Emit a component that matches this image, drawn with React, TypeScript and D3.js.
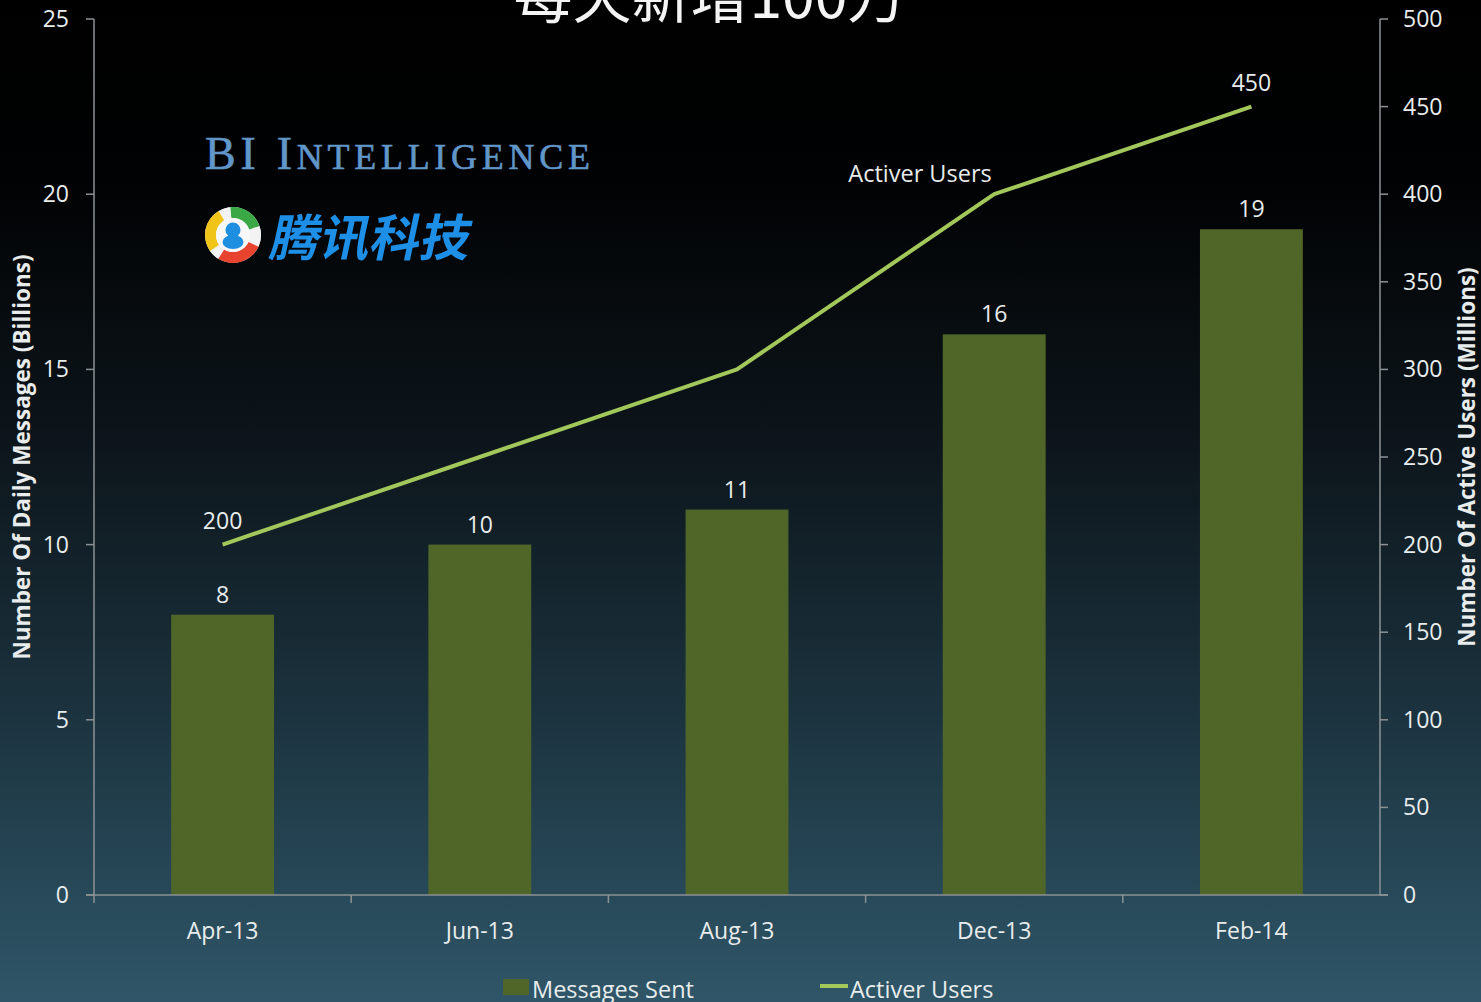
import React from "react";
import * as d3 from "d3";

const categories = ["Apr-13", "Jun-13", "Aug-13", "Dec-13", "Feb-14"];
const messagesSent = [8, 10, 11, 16, 19];
const activeUsers = [200, 250, 300, 400, 450];
const userLabels = [
  { index: 0, text: "200" },
  { index: 4, text: "450" },
];
const leftTicks = [0, 5, 10, 15, 20, 25];
const rightTicks = [0, 50, 100, 150, 200, 250, 300, 350, 400, 450, 500];
const title = "每天新增100万";
const leftTitle = "Number Of Daily Messages (Billions)";
const rightTitle = "Number Of Active Users (Millions)";
const seriesNames = ["Messages Sent", "Activer Users"];

const W = 1481;
const H = 1002;
const FONT = "'Open Sans', 'DejaVu Sans', sans-serif";
const AXIS = "#8c9294";
const BAR = "#506629";
const LINE = "#a2c75a";
const TXT = "#e8ecec";
const FS = 23;

export default function App() {
  const x0 = 94, x1 = 1380, yTop = 19, yBot = 895;
  const x = d3.scaleBand().domain(categories).range([x0, x1]).paddingInner(0.6).paddingOuter(0.3);
  const band = d3.scaleBand().domain(categories).range([x0, x1]);
  const yL = d3.scaleLinear().domain([0, 25]).range([yBot, yTop]);
  const yR = d3.scaleLinear().domain([0, 500]).range([yBot, yTop]);
  const cx = (c: string) => (band(c) as number) + band.bandwidth() / 2;
  const line = d3
    .line<number>()
    .x((_, i) => cx(categories[i]))
    .y((d) => yR(d));
  const boundaries = categories.slice(1).map((c) => band(c) as number);

  const ringArc = d3.arc<any>();
  const logoCx = 233, logoCy = 235;
  const ringSegs = [
    { s: -0.1, e: 1.25, color: "#3aa845" },
    { s: 1.25, e: 2.0, color: "#f2f2f2" },
    { s: 2.0, e: 3.7, color: "#e8432e" },
    { s: 3.7, e: 4.1, color: "#f2f2f2" },
    { s: 4.1, e: 5.75, color: "#f0c419" },
    { s: 5.75, e: 6.18, color: "#f2f2f2" },
  ];

  return (
    <svg width={W} height={H} style={{ position: "absolute", left: 0, top: 0 }} fontFamily={FONT}>
      <defs>
        <linearGradient id="bg" x1="0" y1="0" x2="0" y2="1">
          <stop offset="0" stopColor="#000000" />
          <stop offset="0.18" stopColor="#010203" />
          <stop offset="0.45" stopColor="#0d161c" />
          <stop offset="0.72" stopColor="#1c3440" />
          <stop offset="1" stopColor="#2f5668" />
        </linearGradient>
      </defs>
      <rect x={0} y={0} width={W} height={H} fill="url(#bg)" />

      {/* title (cut off at top) */}
      <text x={710} y={18} textAnchor="middle" fill="#f4f4f4" fontSize={59} fontFamily="'Noto Sans CJK SC', sans-serif">
        {title}
      </text>

      {/* BI Intelligence logo */}
      <text x={205} y={169} fill="#6196c9" fontFamily="'Liberation Serif', 'DejaVu Serif', serif" textLength={385} lengthAdjust="spacing" stroke="#6196c9" strokeWidth={0.6}>
        <tspan fontSize={46}>BI I</tspan>
        <tspan fontSize={36}>NTELLIGENCE</tspan>
      </text>

      {/* Tencent logo */}
      <g transform={`translate(${logoCx},${logoCy})`}>
        <circle r={28} fill="#f4f4f4" />
        {ringSegs.map((s, i) => (
          <path
            key={i}
            d={ringArc({ innerRadius: 17, outerRadius: 28, startAngle: s.s, endAngle: s.e }) as string}
            fill={s.color}
          />
        ))}
        <circle r={17} fill="#f7f7f7" />
        <circle cx={0} cy={-5} r={7.5} fill="#1e8fe0" />
        <ellipse cx={0} cy={7} rx={10.5} ry={7} fill="#1e8fe0" />
      </g>
      <g transform="translate(268,256) skewX(-12)">
        <text x={0} y={0} fill="#1e8fe6" fontSize={50} fontWeight={700} fontFamily="'Noto Sans CJK SC', sans-serif">
          腾讯科技
        </text>
      </g>

      {/* bars */}
      {messagesSent.map((v, i) => (
        <rect key={i} x={x(categories[i])} y={yL(v)} width={x.bandwidth()} height={yBot - yL(v)} fill={BAR} />
      ))}
      {messagesSent.map((v, i) => (
        <text key={"bl" + i} x={cx(categories[i])} y={yL(v) - 12} textAnchor="middle" fill={TXT} fontSize={FS}>
          {v}
        </text>
      ))}

      {/* axes */}
      <g stroke={AXIS} strokeWidth={1.5} fill="none">
        <line x1={x0} y1={yTop} x2={x0} y2={yBot} />
        <line x1={x1} y1={yTop} x2={x1} y2={yBot} />
        <line x1={x0 - 8} y1={yBot} x2={x1 + 8} y2={yBot} />
        {leftTicks.map((t) => (
          <line key={"lt" + t} x1={x0 - 8} x2={x0} y1={yL(t)} y2={yL(t)} />
        ))}
        {rightTicks.map((t) => (
          <line key={"rt" + t} x1={x1} x2={x1 + 8} y1={yR(t)} y2={yR(t)} />
        ))}
        {boundaries.map((b, i) => (
          <line key={"xt" + i} x1={b} x2={b} y1={yBot} y2={yBot + 8} />
        ))}
        <line x1={x0} x2={x0} y1={yBot} y2={yBot + 8} />
      </g>
      {leftTicks.map((t) => (
        <text key={"ltl" + t} x={69} y={yL(t) + 8} textAnchor="end" fill={TXT} fontSize={FS}>
          {t}
        </text>
      ))}
      {rightTicks.map((t) => (
        <text key={"rtl" + t} x={1403} y={yR(t) + 8} textAnchor="start" fill={TXT} fontSize={FS}>
          {t}
        </text>
      ))}
      {categories.map((c) => (
        <text key={c} x={cx(c)} y={939} textAnchor="middle" fill={TXT} fontSize={FS}>
          {c}
        </text>
      ))}
      <text transform={`translate(30,457) rotate(-90)`} textAnchor="middle" fill={TXT} fontSize={22.5} fontWeight={700}>
        {leftTitle}
      </text>
      <text transform={`translate(1475,457) rotate(-90)`} textAnchor="middle" fill={TXT} fontSize={22.5} fontWeight={700}>
        {rightTitle}
      </text>

      {/* line */}
      <path d={line(activeUsers) as string} fill="none" stroke={LINE} strokeWidth={4} strokeLinejoin="round" />
      {userLabels.map((l) => (
        <text key={"ul" + l.index} x={cx(categories[l.index])} y={yR(activeUsers[l.index]) - 16} textAnchor="middle" fill={TXT} fontSize={FS}>
          {l.text}
        </text>
      ))}
      <text x={920} y={182} textAnchor="middle" fill={TXT} fontSize={23.5}>
        {seriesNames[1]}
      </text>

      {/* legend */}
      <rect x={503} y={979} width={26} height={16} fill={BAR} />
      <text x={532} y={998} fill={TXT} fontSize={23.5}>
        {seriesNames[0]}
      </text>
      <line x1={820} x2={848} y1={986} y2={986} stroke={LINE} strokeWidth={4} />
      <text x={850} y={998} fill={TXT} fontSize={23.5}>
        {seriesNames[1]}
      </text>
    </svg>
  );
}
